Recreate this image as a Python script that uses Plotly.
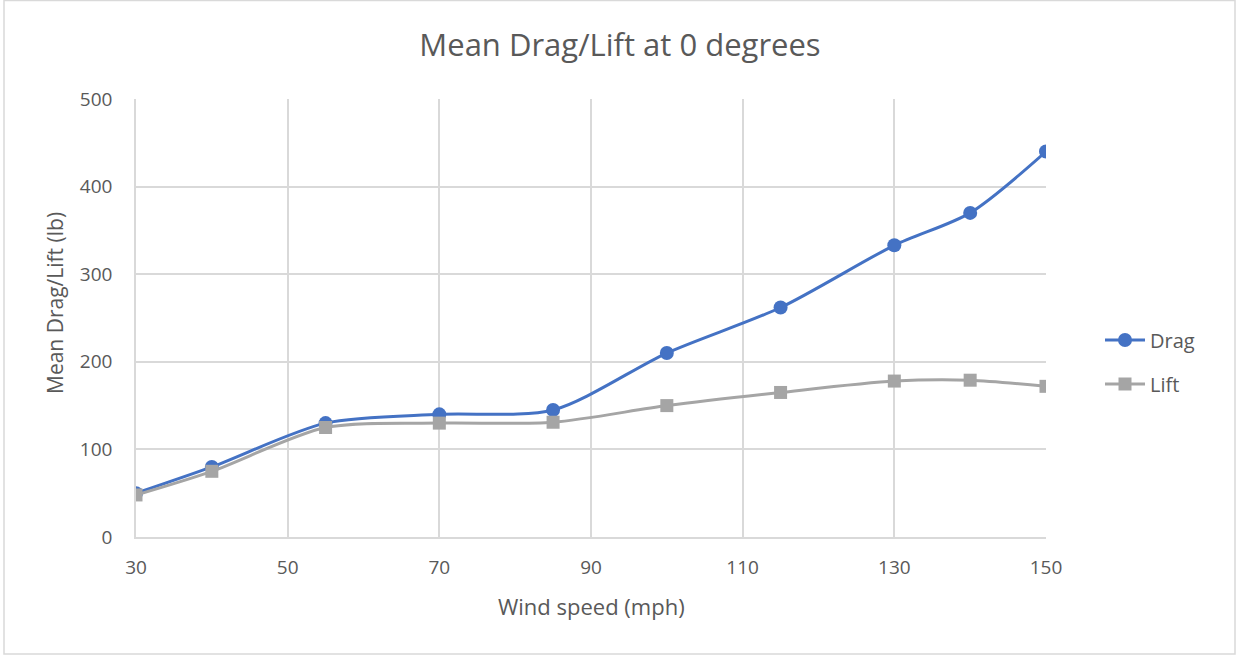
import plotly.graph_objects as go

wind_speed = [30, 40, 55, 70, 85, 100, 115, 130, 140, 150]
drag = [50, 80, 130, 140, 145, 210, 262, 333, 370, 440]
lift = [48, 75, 125, 130, 131, 150, 165, 178, 179, 172]

FONT = "Open Sans"
TXT = "#595959"
GRID = "#d9d9d9"

L, R, T, B = 136, 1046, 99, 537
W, H = 1236, 655
pw, ph = R - L, B - T

fig = go.Figure()
fig.add_trace(go.Scatter(
    x=wind_speed, y=drag, name="Drag", mode="lines+markers",
    line=dict(color="#4472c4", width=3, shape="spline", smoothing=0.8),
    marker=dict(symbol="circle", size=14, color="#4472c4"),
    legend="legend",
))
fig.add_trace(go.Scatter(
    x=wind_speed, y=lift, name="Lift", mode="lines+markers",
    line=dict(color="#a5a5a5", width=3, shape="spline", smoothing=0.8),
    marker=dict(symbol="square", size=13, color="#a5a5a5"),
    legend="legend2",
))

leg_common = dict(xanchor="left", yanchor="middle", x=(1100 - L) / pw,
                  font=dict(size=20, color=TXT, family=FONT),
                  bgcolor="rgba(0,0,0,0)", itemwidth=40)

fig.update_layout(
    width=W, height=H,
    margin=dict(l=L, r=W - R, t=T, b=H - B),
    paper_bgcolor="white", plot_bgcolor="white",
    font=dict(family=FONT, color=TXT, size=20),
    title=dict(text="Mean Drag/Lift at 0 degrees", x=620 / W, xanchor="center",
               y=1 - 45 / H, yanchor="middle",
               font=dict(size=31, color=TXT, family=FONT)),
    xaxis=dict(range=[30, 150], tickmode="linear", tick0=30, dtick=20,
               showgrid=True, gridcolor=GRID, gridwidth=1.5, zeroline=False,
               showline=True, linecolor=GRID, linewidth=1.5, ticks="",
               ticklabelstandoff=12,
               tickfont=dict(size=19, color=TXT)),
    yaxis=dict(range=[0, 500], tickmode="linear", tick0=0, dtick=100,
               showgrid=True, gridcolor=GRID, gridwidth=1.5, zeroline=False,
               showline=True, linecolor=GRID, linewidth=1.5, ticks="",
               ticklabelstandoff=18,
               tickfont=dict(size=19, color=TXT)),
    legend=dict(y=(B - 340) / ph, **leg_common),
    legend2=dict(y=(B - 384) / ph, **leg_common),
    showlegend=True,
)

fig.add_annotation(text="Wind speed (mph)", xref="paper", yref="paper",
                   x=0.5, y=(B - 606) / ph, xanchor="center", yanchor="middle",
                   showarrow=False, font=dict(size=22, color=TXT, family=FONT))
fig.add_annotation(text="Mean Drag/Lift (lb)", xref="paper", yref="paper",
                   x=(55 - L) / pw, y=(B - 303) / ph, xanchor="center", yanchor="middle",
                   textangle=-90, showarrow=False,
                   font=dict(size=21, color=TXT, family=FONT))

fig.add_shape(type="rect", xref="paper", yref="paper",
              x0=(4 - L) / pw, x1=(1235 - L) / pw,
              y0=(B - 654) / ph, y1=(B - 0.5) / ph,
              line=dict(color=GRID, width=1.5), fillcolor="rgba(0,0,0,0)", layer="below")

fig.write_html("out.html", config={"displayModeBar": False},
               post_script="document.body.style.margin='0px';document.body.style.overflow='hidden';")
